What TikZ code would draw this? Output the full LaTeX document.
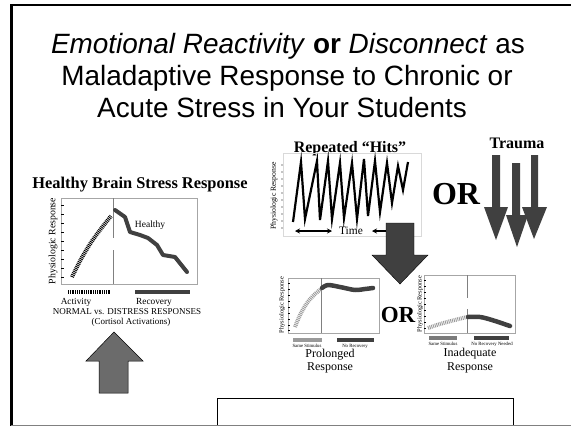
\documentclass[tikz,border=0pt]{standalone}
\usepackage{fontspec}
\setmainfont{Liberation Serif}
\newfontfamily\arialf{Liberation Sans}
\usetikzlibrary{arrows.meta}
\definecolor{darkg}{HTML}{404040}
\definecolor{midg}{HTML}{6B6B6B}
\definecolor{lightg}{HTML}{9A9A9A}
\begin{document}
\begin{tikzpicture}[x=1pt,y=-1pt,
  txt/.style={inner sep=0pt, font=\fontsize{#1}{#1}\selectfont},
  ttl/.style={inner sep=0pt, anchor=base, font=\arialf\fontsize{27.9}{32}\selectfont},
  grbox/.style={draw=gray!70, line width=0.6pt},
  darkcurve/.style={draw=darkg, line width=4pt, line join=round, line cap=round},
  stripes/.style={line width=4pt, dash pattern=on 0.9pt off 0.9pt},
  bigarrow/.style={fill=darkg, draw=black, line width=0.4pt},
  bar/.style={line width=4pt}]
\useasboundingbox (0,0) rectangle (571,426);
\fill[white] (0,0) rectangle (571,426);
% frame
\draw[line width=3pt] (11,5) -- (11,426);
\draw[line width=1.5pt] (10,5) -- (571,5);
\draw[gray, line width=1pt] (11,425) -- (571,425);
% title
\node[ttl] (t1) at (288,53) {\textit{Emotional Reactivity} \textbf{or} \textit{Disconnect} as};
\node[ttl] (t2) at (287,85) {Maladaptive Response to Chronic or};
\node[ttl] (t3) at (282,117) {Acute Stress in Your Students};

% ---------- Healthy graph ----------
\node[txt=16.4, anchor=base, font=\bfseries\fontsize{16.4}{16.4}\selectfont] (hbt) at (140,188) {Healthy Brain Stress Response};
\draw[grbox] (61,198) rectangle (197,284);
\foreach \yy in {205,214,223,232,241,250,259,268,277} \draw[black, line width=0.5pt] (61,\yy) -- (64,\yy);
\node[txt=9.8, rotate=90] (hyl) at (53,241) {Physiologic Response};
\draw[gray, line width=0.8pt] (113,198) -- (113,238);
\draw[gray, line width=0.8pt] (113,250) -- (113,284);
\draw[stripes] plot[smooth] coordinates {(72,277) (80,261) (90,244) (100,230) (111,216)};
\draw[darkcurve] (115,210) -- (125,217) -- (130,232) -- (140,235) -- (148,238) -- (157,245) -- (163,255) -- (175,257) -- (187,272);
\node[txt=9.5] (hlab) at (150,225) {Healthy};
\draw[bar, dash pattern=on 0.9pt off 0.9pt] (68,292) -- (111,292);
\draw[bar, darkg] (135,292) -- (190,292);
\node[txt=9.3, anchor=base] (act) at (76,304) {Activity};
\node[txt=9.3, anchor=base] (rec) at (154,304) {Recovery};
\node[txt=9, anchor=base] (norm) at (127,314) {NORMAL vs. DISTRESS RESPONSES};
\node[txt=9, anchor=base] (cort) at (131,324) {(Cortisol Activations)};
% up arrow
\draw[fill=midg, draw=black, line width=0.5pt] (99,393) -- (128,393) -- (128,361) -- (143,361) -- (114,332) -- (86,361) -- (99,361) -- cycle;

% ---------- Repeated hits ----------
\node[txt=16, anchor=base, font=\bfseries\fontsize{16}{16}\selectfont] (rh) at (350,152) {Repeated “Hits”};
\draw[draw=gray!30, line width=0.6pt] (283,153) rectangle (421,236);
\foreach \yy in {165,172,179,186,193,200,207,214,221,228} \fill (282,\yy) circle (0.6pt);
\node[txt=7.7, rotate=90] (ryl) at (274,196) {Physiologic Response};
\draw[line width=2.2pt, line join=miter] (293,222) -- (301,162) -- (305,219) -- (317,161) -- (320,220) -- (328,161) -- (332,219) -- (340,163) -- (344,218) -- (352,163) -- (357,219) -- (364,159) -- (368,216) -- (375,161) -- (380,212) -- (387,163) -- (392,203) -- (398,166) -- (403,190) -- (408,162);
\draw[line width=1.5pt, {Stealth[length=5pt,width=5pt]}-{Stealth[length=5pt,width=5pt]}] (295,231) -- (332,231);
\node[txt=11.4] (time) at (351,231) {Time};
\draw[line width=1.5pt, -{Stealth[length=5pt,width=5pt]}] (390,231) -- (372,231);
% big down arrow
\draw[bigarrow] (386,223) -- (414,223) -- (414,255) -- (428,255) -- (400,284) -- (372,255) -- (386,255) -- cycle;

% OR and Trauma
\node[txt=32, anchor=base, font=\bfseries\fontsize{32}{32}\selectfont] (or1) at (456,204) {OR};
\node[txt=16, anchor=base, font=\bfseries\fontsize{16}{16}\selectfont] (tr) at (517,148) {Trauma};
\fill[darkg] (492,155) -- (500,155) -- (500,207) -- (508,207) -- (496,240) -- (484,207) -- (492,207) -- cycle;
\fill[darkg] (512,163) -- (520,163) -- (520,215) -- (528,215) -- (517,247) -- (506,215) -- (512,215) -- cycle;
\fill[darkg] (531,155) -- (538,155) -- (538,207) -- (547,207) -- (534,239) -- (522,207) -- (531,207) -- cycle;

% ---------- Prolonged ----------
\draw[grbox] (288,278) rectangle (379,333);
\foreach \yy in {283,289,295,301,307,313,319,325,330} \draw[line width=0.4pt] (288,\yy) -- (290,\yy);
\node[txt=6.4, rotate=90] (pyl) at (282,305) {Physiologic Response};
\draw[gray, line width=0.8pt] (321,278) -- (321,333);
\draw[stripes, lightg] plot[smooth] coordinates {(295,327) (300,315) (307,303) (314,295) (321,289)};
\draw[darkcurve, line width=4.5pt] plot[smooth] coordinates {(322,288) (328,285) (340,287) (355,290) (365,289) (373,288)};
\draw[bar, lightg] (293,340) -- (322,340);
\draw[bar, darkg] (337,340) -- (374,340);
\node[txt=4.8] (pss) at (307,346) {Same Stimulus};
\node[txt=4.8] (pnr) at (355,346) {No Recovery};
\node[txt=12] (pr1) at (330,355) {Prolonged};
\node[txt=12] (pr2) at (330,368) {Response};

\node[txt=23, font=\bfseries\fontsize{23}{23}\selectfont] (or2) at (398,315) {OR};

% ---------- Inadequate ----------
\draw[grbox] (424,275) rectangle (515,333);
\foreach \yy in {280,286,292,298,304,310,316,322,328} \draw[line width=0.4pt] (424,\yy) -- (426,\yy);
\node[txt=6.4, rotate=90] (iyl) at (420,304) {Physiologic Response};
\draw[gray, line width=0.8pt] (467,275) -- (467,298);
\draw[gray, line width=0.8pt] (467,309) -- (467,333);
\draw[stripes, lightg] plot[smooth] coordinates {(428,328) (440,324) (455,320) (467,317)};
\draw[darkcurve, line width=4.5pt] plot[smooth] coordinates {(468,317) (480,317) (492,320) (510,326)};
\draw[bar, lightg!80!black] (429,338) -- (457,338);
\draw[bar, darkg] (474,338) -- (509,338);
\node[txt=4.8] (iss) at (443,344) {Same Stimulus};
\node[txt=4.8] (inr) at (492,344) {No Recovery Needed};
\node[txt=12] (ir1) at (470,354) {Inadequate};
\node[txt=12] (ir2) at (470,368) {Response};

% bottom box
\draw[line width=0.8pt] (217,425) -- (217,398) -- (513,398) -- (513,425);
\end{tikzpicture}
\end{document}
